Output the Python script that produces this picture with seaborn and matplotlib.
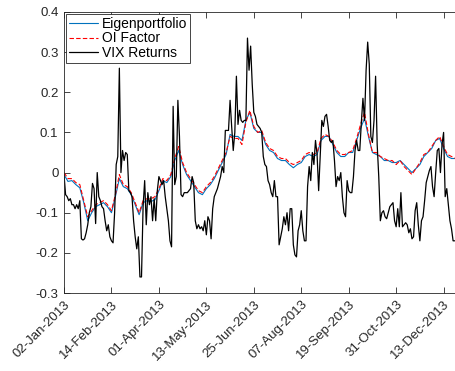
import numpy as np
import pandas as pd
import seaborn as sns
import matplotlib.pyplot as plt

sns.set_style("ticks")
plt.rcParams['font.family'] = ['Liberation Sans', 'DejaVu Sans']
plt.rcParams['axes.unicode_minus'] = False

# trading day index (0 = 02-Jan-2013)
tick_days = [0, 30, 60, 90, 120, 150, 180, 210, 240]
tick_labels = ['02-Jan-2013', '14-Feb-2013', '01-Apr-2013', '13-May-2013', '25-Jun-2013',
               '07-Aug-2013', '19-Sep-2013', '31-Oct-2013', '13-Dec-2013']

factor_days = np.arange(0, 250, 2.5)
eigen = [
    -0.005, -0.022, -0.02, -0.03, -0.038, -0.075, -0.12, -0.10, -0.085, -0.08,
    -0.075, -0.085, -0.10, -0.06, -0.015, -0.035, -0.04, -0.055, -0.08, -0.105,
    -0.075, -0.07, -0.072, -0.068, -0.045, -0.02, -0.025, -0.01, 0.03, 0.055,
    0.02, -0.005, -0.02, -0.035, -0.05, -0.055, -0.04, -0.03, -0.015, 0.005,
    0.025, 0.045, 0.095, 0.09, 0.09, 0.08, 0.13, 0.15, 0.11, 0.10,
    0.10, 0.07, 0.055, 0.05, 0.035, 0.03, 0.03, 0.02, 0.012, 0.02,
    0.025, 0.04, 0.045, 0.04, 0.045, 0.08, 0.09, 0.09, 0.07, 0.05,
    0.04, 0.04, 0.05, 0.05, 0.08, 0.11, 0.135, 0.09, 0.05, 0.045,
    0.04, 0.03, 0.03, 0.025, 0.025, 0.03, 0.02, 0.01, 0.0, 0.01,
    0.02, 0.04, 0.05, 0.06, 0.08, 0.085, 0.06, 0.04, 0.035, 0.035,
]
oi_factor = [
    0.0, -0.015, -0.015, -0.025, -0.03, -0.07, -0.11, -0.095, -0.08, -0.075,
    -0.07, -0.08, -0.095, -0.055, -0.005, -0.03, -0.035, -0.05, -0.075, -0.10,
    -0.07, -0.065, -0.065, -0.06, -0.04, -0.015, -0.02, -0.005, 0.035, 0.065,
    0.025, 0.0, -0.015, -0.03, -0.045, -0.05, -0.035, -0.025, -0.01, 0.01,
    0.03, 0.05, 0.09, 0.085, 0.085, 0.07, 0.125, 0.155, 0.115, 0.10,
    0.105, 0.075, 0.06, 0.055, 0.04, 0.035, 0.035, 0.025, 0.02, 0.025,
    0.03, 0.045, 0.05, 0.045, 0.05, 0.085, 0.095, 0.09, 0.075, 0.055,
    0.045, 0.045, 0.05, 0.055, 0.085, 0.12, 0.15, 0.095, 0.05, 0.05,
    0.04, 0.035, 0.03, 0.03, 0.02, 0.03, 0.015, 0.005, -0.005, 0.01,
    0.025, 0.045, 0.05, 0.065, 0.08, 0.09, 0.065, 0.045, 0.04, 0.035,
]

vix_days = np.arange(248)
vix = [
    -0.005, -0.055, -0.06, -0.07, -0.065, -0.08, -0.08, -0.09, -0.08, -0.09,
    -0.07, -0.165, -0.168, -0.165, -0.15, -0.13, -0.10, -0.085, -0.027, -0.04,
    -0.127, 0.0, -0.06, -0.07, -0.085, -0.09, -0.12, -0.145, -0.13, -0.16,
    -0.17, -0.175, -0.10, 0.02, 0.04, 0.26, 0.0, 0.055, 0.03, 0.05,
    0.045, -0.045, -0.05, -0.06, -0.12, -0.16, -0.19, -0.16, -0.26, -0.26,
    -0.085, -0.02, -0.13, -0.05, -0.08, -0.06, -0.12, -0.065, -0.12, -0.045,
    -0.01, -0.02, -0.03, -0.02, -0.06, -0.09, -0.12, -0.17, -0.185, 0.165,
    -0.03, -0.01, 0.18, 0.09, -0.055, -0.06, -0.05, -0.05, -0.05, -0.045,
    -0.04, -0.01, -0.025, -0.12, -0.14, -0.13, -0.14, -0.135, -0.145, -0.12,
    -0.155, -0.11, -0.12, -0.165, -0.09, -0.06, -0.05, -0.04, -0.025, -0.01,
    0.015, 0.0, 0.105, 0.105, 0.105, 0.18, 0.115, 0.055, 0.10, 0.24,
    0.12, 0.155, 0.13, 0.125, 0.13, 0.13, 0.335, 0.255, 0.315, 0.22,
    0.15, 0.14, 0.12, 0.115, 0.11, 0.10, 0.04, 0.02, 0.015, -0.02,
    -0.03, -0.05, -0.06, -0.02, -0.06, -0.06, -0.18, -0.16, -0.14, -0.11,
    -0.13, -0.10, -0.145, -0.09, -0.09, -0.18, -0.205, -0.21, -0.145, -0.13,
    -0.095, -0.145, -0.17, -0.17, -0.035, 0.015, -0.02, 0.05, 0.02, 0.08,
    0.045, -0.045, 0.04, 0.13, 0.115, 0.14, 0.145, 0.115, 0.08, 0.075,
    0.08, 0.03, -0.035, -0.01, -0.02, 0.0, -0.06, -0.10, -0.11, -0.02,
    -0.045, -0.05, -0.05, -0.01, 0.055, 0.08, 0.055, 0.055, 0.125, 0.185,
    0.13, 0.255, 0.325, 0.27, 0.09, 0.075, 0.13, 0.24, 0.07, -0.01,
    -0.12, -0.10, -0.095, -0.11, -0.115, -0.10, -0.085, -0.08, -0.075, -0.12,
    -0.135, -0.09, -0.135, -0.05, -0.135, -0.13, -0.125, -0.13, -0.15, -0.14,
    -0.165, -0.16, -0.095, -0.075, -0.13, -0.17, -0.12, -0.11, -0.07, -0.025,
    -0.01, 0.005, 0.015, -0.035, -0.06, 0.0, 0.055, 0.06, 0.0, 0.07,
    0.10, -0.06, -0.04, -0.08, -0.12, -0.14, -0.17, -0.17,
]

dark = '#262626'
fig = plt.figure(figsize=(4.56, 3.71), dpi=100)
ax = fig.add_axes([64 / 456, 78 / 371, 397 / 456, 281 / 371])

sns.lineplot(x=factor_days, y=eigen, ax=ax, color='#0072BD', lw=0.8, label='Eigenportfolio')
sns.lineplot(x=factor_days, y=oi_factor, ax=ax, color='#FF0000', lw=0.8,
             linestyle=(0, (4, 2)), label='OI Factor')
sns.lineplot(x=vix_days, y=vix, ax=ax, color='black', lw=0.9, label='VIX Returns')

ax.set_xlim(0, 251)
ax.set_ylim(-0.3, 0.4)
ax.set_xticks(tick_days)
ax.set_xticklabels(tick_labels, rotation=45, ha='right', va='top', rotation_mode='anchor')
yt = [-0.3, -0.2, -0.1, 0, 0.1, 0.2, 0.3, 0.4]
ax.set_yticks(yt)
ax.set_yticklabels([f'{v:g}' for v in yt])
ax.set_xlabel('')
ax.set_ylabel('')
ax.tick_params(direction='in', length=4, width=0.6, top=True, right=True,
               colors=dark, labelsize=9.5, pad=4)
for s in ax.spines.values():
    s.set_color(dark)
    s.set_linewidth(0.6)

leg = ax.legend(loc='upper left', fontsize=10, handlelength=2.1, handletextpad=0.3,
                labelspacing=0.04, borderaxespad=0.15, borderpad=0.2,
                fancybox=False, framealpha=1, edgecolor=dark)
leg.get_frame().set_linewidth(0.6)
for t in leg.get_texts():
    t.set_color('black')

fig.savefig('out.png', dpi=100)
